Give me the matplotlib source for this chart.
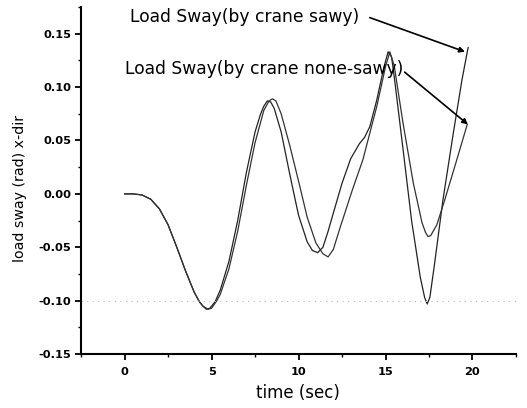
import matplotlib
matplotlib.use("Agg")
import matplotlib.pyplot as plt
from matplotlib.ticker import MultipleLocator, FormatStrFormatter

plt.rcParams['font.family'] = ['DejaVu Sans']

# Load sway with crane sway (deeper oscillation at the end)
t_sawy = [0, 0.5, 1.0, 1.5, 2.0, 2.5, 3.0, 3.5, 4.0, 4.3, 4.5, 4.7, 4.9, 5.2, 5.5,
          6.0, 6.5, 7.0, 7.5, 7.8, 8.0, 8.2, 8.4, 8.6, 9.0, 9.5, 10.0, 10.5, 10.8,
          11.1, 11.4, 11.7, 12.0, 12.5, 13.0, 13.5, 13.8, 14.1, 14.5, 14.9, 15.15,
          15.35, 15.5, 16.0, 16.5, 17.0, 17.25, 17.4, 17.55, 17.8, 18.3, 18.9, 19.4,
          19.75]
v_sawy = [0, 0, -0.001, -0.005, -0.014, -0.029, -0.050, -0.072, -0.092, -0.101,
          -0.105, -0.108, -0.107, -0.101, -0.090, -0.063, -0.025, 0.020, 0.058,
          0.074, 0.082, 0.087, 0.086, 0.080, 0.058, 0.018, -0.020, -0.045, -0.053,
          -0.055, -0.050, -0.035, -0.018, 0.010, 0.033, 0.047, 0.053, 0.063, 0.088,
          0.118, 0.133, 0.128, 0.110, 0.043, -0.025, -0.078, -0.097, -0.103, -0.097,
          -0.068, -0.006, 0.057, 0.107, 0.137]

# Load sway without crane sway
t_none = [0, 0.5, 1.0, 1.5, 2.0, 2.5, 3.0, 3.5, 4.0, 4.3, 4.5, 4.8, 5.0, 5.3, 5.5,
          6.0, 6.5, 7.0, 7.5, 8.0, 8.3, 8.5, 8.7, 9.0, 9.5, 10.0, 10.5, 11.0, 11.4,
          11.7, 12.0, 12.4, 13.1, 13.7, 14.1, 14.5, 15.0, 15.25, 15.5, 16.0, 16.6,
          17.1, 17.3, 17.45, 17.6, 17.95, 18.4, 19.1, 19.7]
v_none = [0, 0, -0.001, -0.005, -0.014, -0.029, -0.050, -0.072, -0.092, -0.101,
          -0.105, -0.108, -0.107, -0.100, -0.094, -0.070, -0.035, 0.008, 0.048,
          0.078, 0.087, 0.089, 0.087, 0.075, 0.045, 0.012, -0.022, -0.046, -0.056,
          -0.059, -0.052, -0.031, 0.004, 0.032, 0.057, 0.082, 0.119, 0.133, 0.120,
          0.067, 0.010, -0.027, -0.036, -0.040, -0.039, -0.029, -0.006, 0.032, 0.065]

label_sawy = "Load Sway(by crane sawy)"
label_none = "Load Sway(by crane none-sawy)"

fig = plt.figure(figsize=(5.27, 4.08), dpi=100)
ax = fig.add_axes([0.154, 0.132, 0.825, 0.851])

ax.plot(t_sawy, v_sawy, color='#222222', lw=0.9)
ax.plot(t_none, v_none, color='#333333', lw=0.9)

ax.axhline(-0.10, color='#bbbbbb', lw=0.8, ls=(0, (1, 4)))

ax.set_xlim(-2.5, 22.5)
ax.set_ylim(-0.15, 0.175)
ax.xaxis.set_major_locator(MultipleLocator(5))
ax.xaxis.set_minor_locator(MultipleLocator(2.5))
ax.yaxis.set_major_locator(MultipleLocator(0.05))
ax.yaxis.set_minor_locator(MultipleLocator(0.025))
ax.yaxis.set_major_formatter(FormatStrFormatter('%.2f'))

for s in ['top', 'right']:
    ax.spines[s].set_visible(False)
for s in ['left', 'bottom']:
    ax.spines[s].set_linewidth(1.5)

ax.tick_params(which='major', direction='out', length=4.5, width=1.3,
               labelsize=8.2, pad=2.5)
ax.tick_params(axis='x', which='major', pad=4.5)
ax.tick_params(which='minor', direction='out', length=2.5, width=1.0)
for lab in ax.get_xticklabels() + ax.get_yticklabels():
    lab.set_fontweight('bold')

ax.set_xlabel('time (sec)', fontsize=12)
ax.set_ylabel('load sway (rad) x-dir', fontsize=10.2)
ax.xaxis.set_label_coords(0.498, -0.085)
ax.yaxis.set_label_coords(-0.124, 0.478)

ax.text(0.32, 0.166, label_sawy, fontsize=12.3, va='center', ha='left')
ax.text(0.0, 0.117, label_none, fontsize=12.3, va='center', ha='left')

ap = dict(arrowstyle='-|>', color='black', lw=1.2, mutation_scale=8, shrinkA=0, shrinkB=0)
ax.annotate('', xy=(19.57, 0.133), xytext=(14.1, 0.165), arrowprops=ap)
ax.annotate('', xy=(19.74, 0.065), xytext=(16.1, 0.114), arrowprops=ap)

fig.savefig('out.png', dpi=100)
